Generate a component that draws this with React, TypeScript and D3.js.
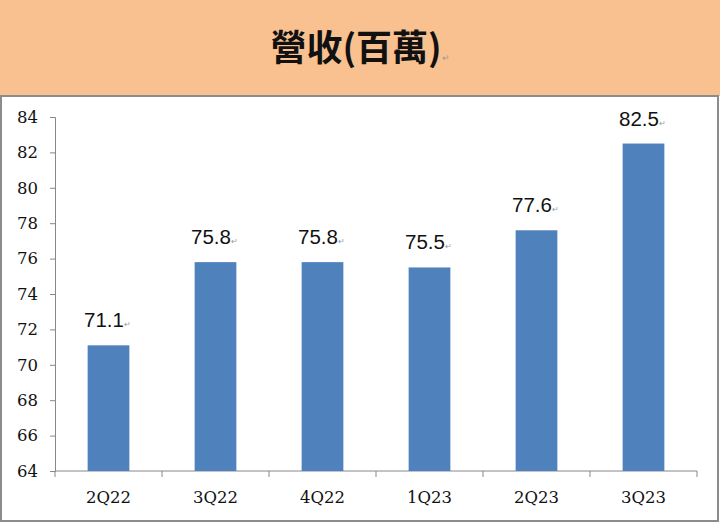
import React, { useEffect, useRef } from 'react';
import * as d3 from 'd3';

const quarters = ['2Q22', '3Q22', '4Q22', '1Q23', '2Q23', '3Q23'];
const revenue = [71.1, 75.8, 75.8, 75.5, 77.6, 82.5];
const yTicks = [64, 66, 68, 70, 72, 74, 76, 78, 80, 82, 84];
const title = '營收(百萬)';

const W = 720;
const H = 523;

const App: React.FC = () => {
    const svgRef = useRef<SVGSVGElement | null>(null);

    useEffect(() => {
        if (!svgRef.current) return;
        const svg = d3.select(svgRef.current);
        svg.selectAll('*').remove();

        const margin = { top: 117, right: 23, bottom: 52, left: 55 };
        const plotBottom = H - margin.bottom;

        // title band
        svg.append('rect')
            .attr('x', 0).attr('y', 0)
            .attr('width', W).attr('height', 96)
            .attr('fill', '#f9c090');

        svg.append('rect')
            .attr('x', 1).attr('y', 96)
            .attr('width', W - 3).attr('height', H - 98)
            .attr('fill', '#fff')
            .attr('stroke', '#8c8c8c')
            .attr('stroke-width', 2);

        const t = svg.append('text')
            .attr('x', 360).attr('y', 61)
            .attr('text-anchor', 'middle')
            .attr('font-family', '"Noto Sans CJK TC", sans-serif')
            .attr('font-weight', 'bold')
            .attr('font-size', 36)
            .attr('fill', '#111')
            .text(title);
        t.append('tspan')
            .attr('font-size', 9)
            .attr('font-weight', 'normal')
            .attr('fill', '#999')
            .text('↵');

        const x = d3.scaleBand<string>()
            .domain(quarters)
            .range([margin.left, W - margin.right])
            .paddingInner(0.61)
            .paddingOuter(0.305);

        const y = d3.scaleLinear()
            .domain([64, 84])
            .range([plotBottom, margin.top]);

        // y axis
        const yAxis = svg.append('g')
            .attr('transform', `translate(${margin.left},0)`)
            .call(d3.axisLeft(y).tickValues(yTicks).tickSize(5).tickSizeOuter(5).tickFormat(d3.format('d')));
        yAxis.selectAll('path, line').attr('stroke', '#888');
        yAxis.selectAll('text')
            .attr('font-family', '"DejaVu Serif", serif')
            .attr('font-size', 16.5)
            .attr('fill', '#111')
            .attr('x', -17);

        // x axis with ticks between categories
        const step = x.step();
        const bounds = d3.range(quarters.length + 1).map((i) => margin.left + i * step);
        svg.append('line')
            .attr('x1', margin.left).attr('x2', W - margin.right)
            .attr('y1', plotBottom).attr('y2', plotBottom)
            .attr('stroke', '#888');
        svg.selectAll('.xtick')
            .data(bounds)
            .enter()
            .append('line')
            .attr('x1', (d) => d).attr('x2', (d) => d)
            .attr('y1', plotBottom).attr('y2', plotBottom + 6)
            .attr('stroke', '#888');
        svg.selectAll('.xlabel')
            .data(quarters)
            .enter()
            .append('text')
            .attr('x', (d) => (x(d) as number) + x.bandwidth() / 2)
            .attr('y', plotBottom + 32)
            .attr('text-anchor', 'middle')
            .attr('font-family', '"DejaVu Serif", serif')
            .attr('font-size', 16.5)
            .attr('fill', '#111')
            .text((d) => d);

        // bars
        svg.selectAll('.bar')
            .data(revenue)
            .enter()
            .append('rect')
            .attr('x', (d, i) => x(quarters[i]) as number)
            .attr('y', (d) => y(d))
            .attr('width', x.bandwidth())
            .attr('height', (d) => plotBottom - y(d))
            .attr('fill', '#4f81bd');

        // value labels
        const labels = svg.selectAll('.vlabel')
            .data(revenue)
            .enter()
            .append('text')
            .attr('x', (d, i) => (x(quarters[i]) as number) + x.bandwidth() / 2 - 1)
            .attr('y', (d) => y(d) - 18)
            .attr('text-anchor', 'middle')
            .attr('font-family', '"Liberation Sans", Arial, sans-serif')
            .attr('font-size', 20.5)
            .attr('fill', '#111')
            .text((d) => d.toFixed(1));
        labels.append('tspan')
            .attr('font-size', 8)
            .attr('fill', '#999')
            .text('↵');
    }, []);

    return (
        <div style={{ position: 'absolute', left: 0, top: 0 }}>
            <svg ref={svgRef} width={W} height={H} style={{ display: 'block' }}></svg>
        </div>
    );
};

export default App;
